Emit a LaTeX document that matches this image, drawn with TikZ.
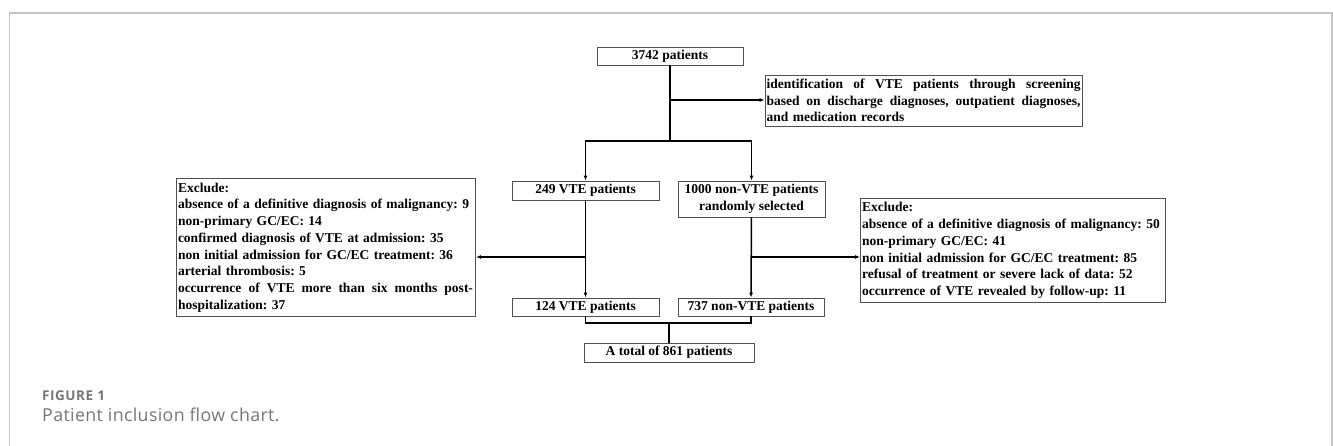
\documentclass[tikz,border=0pt]{standalone}
\usepackage{fontspec}
\setmainfont{Liberation Serif}
\newfontfamily\capfont[LetterSpace=2]{Open Sans}
\newfontfamily\figfont[LetterSpace=4]{Open Sans}
\usetikzlibrary{arrows.meta,positioning,calc}
\definecolor{framegray}{HTML}{C4C4C4}
\definecolor{boxgray}{HTML}{505050}
\definecolor{capgray}{HTML}{767676}
\newcommand\jline[2]{\leavevmode\hbox to #1{\spaceskip=0.25em plus 1fil\relax #2}}
\frenchspacing
\begin{document}
\begin{tikzpicture}[x=1pt,y=-1pt,
  every node/.style={font=\fontsize{13.5}{16.7}\selectfont\bfseries},
  bx/.style={draw=boxgray,line width=0.9pt,align=center,inner sep=0pt},
  ex/.style={draw=boxgray,line width=0.9pt,align=left,inner xsep=1.5pt,inner ysep=4pt},
  ar/.style={-{Latex[length=5pt,width=4pt]},line width=1.5pt}]
\useasboundingbox (0,0) rectangle (1333,446);
\draw[framegray,line width=1.3pt] (9.5,446) -- (9.5,13) -- (1332,13) -- (1332,446);
\node[bx,minimum width=146,minimum height=18] (pall) at (670,56) {3742 patients};
\node[ex,text width=314] (ident) at (923.5,100.5) {\jline{314pt}{identification of VTE patients through screening}\\\jline{314pt}{based on discharge diagnoses, outpatient diagnoses,}\\and medication records};
\node[bx,minimum width=147,minimum height=19] (vte) at (585.5,190.5) {249 VTE patients};
\node[bx,minimum width=147,minimum height=36] (nvte) at (751.5,199) {1000 non-VTE patients\\randomly selected};
\node[bx,minimum width=147,minimum height=18] (vte2) at (585.5,307) {124 VTE patients};
\node[bx,minimum width=146,minimum height=18] (nvte2) at (751,307) {737 non-VTE patients};
\node[bx,minimum width=170,minimum height=19] (total) at (669,352.5) {A total of 861 patients};
\node[ex,text width=296] (exl) at (326,247.5) {Exclude:\\absence of a definitive diagnosis of malignancy: 9\\non-primary GC/EC: 14\\confirmed diagnosis of VTE at admission: 35\\non initial admission for GC/EC treatment: 36\\arterial thrombosis: 5\\\jline{295pt}{occurrence of VTE more than six months post-}\\hospitalization: 37};
\node[ex,text width=302] (exr) at (1013,250.5) {Exclude:\\absence of a definitive diagnosis of malignancy: 50\\non-primary GC/EC: 41\\non initial admission for GC/EC treatment: 85\\refusal of treatment or severe lack of data: 52\\occurrence of VTE revealed by follow-up: 11};
\coordinate (b1) at (670,141);
\coordinate (b2) at (670,100);
\coordinate (l1) at (585.5,257);
\coordinate (r1) at (751.5,257);
\coordinate (j) at (669,323);
\draw[line width=1.5pt] (pall) -- (b1);
\draw[ar] (b2) -- (b2-|ident.west);
\draw[ar] (b1) -| (vte);
\draw[ar] (b1) -| (nvte);
\draw[ar] (vte) -- (vte2);
\draw[ar] (nvte) -- (nvte2);
\draw[ar] (l1) -- (l1-|exl.east);
\draw[ar] (r1) -- (r1-|exr.west);
\draw[line width=1.5pt] (vte2) |- (j) -| (nvte2);
\draw[line width=1.5pt] (j) -- (total);
\node[anchor=base west,inner sep=0pt,font=\figfont\bfseries\fontsize{13.5}{16}\selectfont,text=capgray] (fig) at (42,400) {FIGURE 1};
\node[anchor=base west,inner sep=0pt,font=\capfont\fontsize{17.8}{21}\selectfont,text=capgray] (cap) at (42,421) {Patient inclusion flow chart.};
\end{tikzpicture}
\end{document}
